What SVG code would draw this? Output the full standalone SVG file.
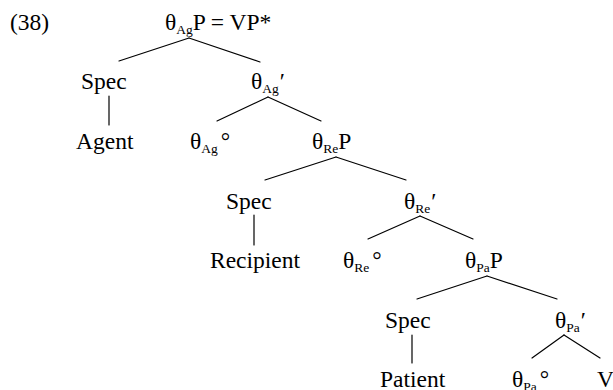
<svg xmlns="http://www.w3.org/2000/svg" width="613" height="390" viewBox="0 0 613 390">
  <style>
    text { font-family: "Liberation Serif", "Times New Roman", serif; font-size: 23.5px; fill: #000; }
    .sub { font-size: 13.5px; }
    #edges line { stroke: #000; stroke-width: 1.2; stroke-linecap: round; }
  </style>
  <rect width="613" height="390" fill="#fff"/>

  <!-- example number -->
  <text id="exnum" x="10" y="30">(38)</text>

  <!-- tree branches -->
  <g id="edges">
    <line x1="189" y1="38" x2="119" y2="61"/>
    <line x1="189" y1="38" x2="260" y2="62"/>
    <line x1="109" y1="96" x2="109" y2="125"/>
    <line x1="268" y1="97" x2="217" y2="121"/>
    <line x1="268" y1="97" x2="321" y2="121"/>
    <line x1="336" y1="157" x2="265" y2="180"/>
    <line x1="336" y1="157" x2="406" y2="180"/>
    <line x1="254" y1="215" x2="254" y2="245"/>
    <line x1="420" y1="216" x2="368" y2="239"/>
    <line x1="420" y1="216" x2="473" y2="239"/>
    <line x1="487" y1="276" x2="417" y2="299"/>
    <line x1="487" y1="276" x2="557" y2="299"/>
    <line x1="412" y1="335" x2="412" y2="363"/>
    <line x1="564" y1="335" x2="532" y2="358"/>
    <line x1="564" y1="335" x2="600" y2="358"/>
  </g>

  <!-- nodes -->
  <g id="agP"><text x="165" y="30">θ<tspan class="sub" dy="4">Ag</tspan><tspan dy="-4">P = VP*</tspan></text></g>
  <g id="specAg"><text x="81" y="89">Spec</text></g>
  <g id="agBar"><text x="251" y="89">θ<tspan class="sub" dy="4">Ag</tspan><tspan dx="1" dy="-4">′</tspan></text></g>
  <g id="agent"><text x="76" y="149">Agent</text></g>
  <g id="agHead"><text x="190" y="149">θ<tspan class="sub" dy="4">Ag</tspan><tspan dx="3" dy="-4">°</tspan></text></g>
  <g id="reP"><text x="312" y="149">θ<tspan class="sub" dy="4">Re</tspan><tspan dy="-4">P</tspan></text></g>
  <g id="specRe"><text x="226" y="209">Spec</text></g>
  <g id="reBar"><text x="404" y="209">θ<tspan class="sub" dy="4">Re</tspan><tspan dx="1" dy="-4">′</tspan></text></g>
  <g id="recipient"><text x="210" y="268">Recipient</text></g>
  <g id="reHead"><text x="343" y="268">θ<tspan class="sub" dy="4">Re</tspan><tspan dx="3" dy="-4">°</tspan></text></g>
  <g id="paP"><text x="465" y="268">θ<tspan class="sub" dy="4">Pa</tspan><tspan dy="-4">P</tspan></text></g>
  <g id="specPa"><text x="385" y="328">Spec</text></g>
  <g id="paBar"><text x="555" y="328">θ<tspan class="sub" dy="4">Pa</tspan><tspan dx="1" dy="-4">′</tspan></text></g>
  <g id="patient"><text x="380" y="387">Patient</text></g>
  <g id="paHead"><text x="512" y="387">θ<tspan class="sub" dy="4">Pa</tspan><tspan dx="3" dy="-4">°</tspan></text></g>
  <g id="verb"><text x="597" y="387">V</text></g>
</svg>
